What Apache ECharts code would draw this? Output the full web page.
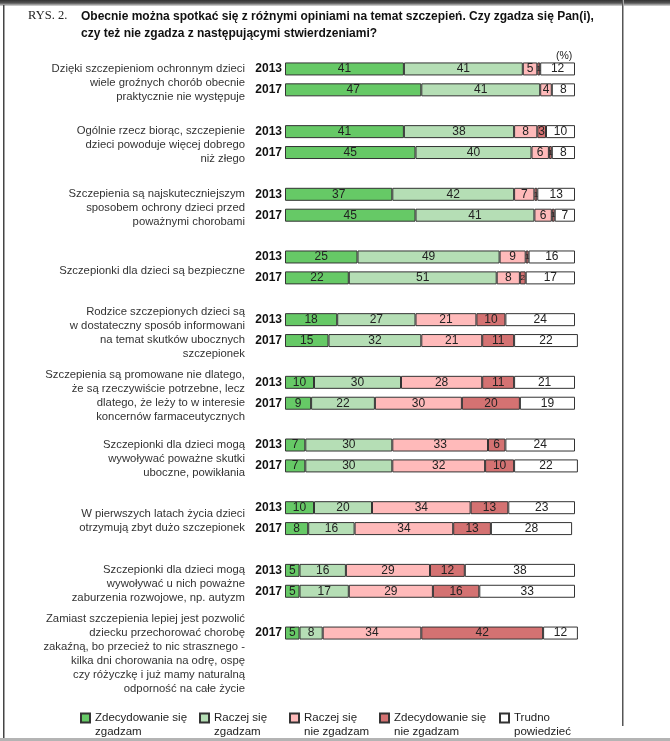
<!DOCTYPE html>
<html><head><meta charset="utf-8">
<script src="https://cdn.jsdelivr.net/npm/echarts@6/dist/echarts.min.js"></script>
<style>html,body{margin:0;padding:0;background:#fff}#c{width:670px;height:741px}</style>
</head><body><div id="c"></div>
<script>
// ---- data ----
const statements = [
  'Dzięki szczepieniom ochronnym dzieci\nwiele groźnych chorób obecnie\npraktycznie nie występuje',
  'Ogólnie rzecz biorąc, szczepienie\ndzieci powoduje więcej dobrego\nniż złego',
  'Szczepienia są najskuteczniejszym\nsposobem ochrony dzieci przed\npoważnymi chorobami',
  'Szczepionki dla dzieci są bezpieczne',
  'Rodzice szczepionych dzieci są\nw dostateczny sposób informowani\nna temat skutków ubocznych\nszczepionek',
  'Szczepienia są promowane nie dlatego,\nże są rzeczywiście potrzebne, lecz\ndlatego, że leży to w interesie\nkoncernów farmaceutycznych',
  'Szczepionki dla dzieci mogą\nwywoływać poważne skutki\nuboczne, powikłania',
  'W pierwszych latach życia dzieci\notrzymują zbyt dużo szczepionek',
  'Szczepionki dla dzieci mogą\nwywoływać u nich poważne\nzaburzenia rozwojowe, np. autyzm',
  'Zamiast szczepienia lepiej jest pozwolić\ndziecku przechorować chorobę\nzakaźną, bo przecież to nic strasznego -\nkilka dni chorowania na odrę, ospę\nczy różyczkę i już mamy naturalną\nodporność na całe życie'
];
const groupYears = [
  ['2013','2017'],['2013','2017'],['2013','2017'],['2013','2017'],['2013','2017'],
  ['2013','2017'],['2013','2017'],['2013','2017'],['2013','2017'],['2017']
];
const seriesNames = ['Zdecydowanie się\nzgadzam','Raczej się\nzgadzam','Raczej się\nnie zgadzam','Zdecydowanie się\nnie zgadzam','Trudno\npowiedzieć'];
// one value per bar, in order of groups/years above
const strongAgree    = [41,47, 41,45, 37,45, 25,22, 18,15, 10,9, 7,7, 10,8, 5,5, 5];
const agree          = [41,41, 38,40, 42,41, 49,51, 27,32, 30,22, 30,30, 20,16, 16,17, 8];
const disagree       = [5,4,   8,6,   7,6,   9,8,   21,21, 28,30, 33,32, 34,34, 29,29, 34];
const strongDisagree = [1,0,   3,1,   1,1,   1,2,   10,11, 11,20, 6,10,  13,13, 12,16, 42];
const hardToSay      = [12,8,  10,8,  13,7,  16,17, 24,22, 21,19, 24,22, 23,28, 38,33, 12];
const unitLabel = '(%)';

// ---- build slots (bars plus a gap between groups) ----
const slots = [];      // category keys
const slotYear = [];   // label shown
const slotBar = [];    // index in value arrays or -1
const groupSlots = []; // slot indices per group
let bi = 0;
groupYears.forEach((ys, g) => {
  const gs = [];
  ys.forEach(y => { gs.push(slots.length); slots.push('g' + g + '_' + y); slotYear.push(y); slotBar.push(bi++); });
  groupSlots.push(gs);
  if (g < groupYears.length - 1) { slots.push('gap' + g); slotYear.push(''); slotBar.push(-1); }
});

const colors = ['#66c966', '#b5deb5', '#ffbaba', '#d47272', '#ffffff'];
const valueSets = [strongAgree, agree, disagree, strongDisagree, hardToSay];

const series = valueSets.map((vals, s) => ({
  name: seriesNames[s],
  type: 'bar',
  stack: 'all',
  barWidth: 13,
  clip: false,
  itemStyle: { color: colors[s], borderColor: '#333', borderWidth: 1 },
  label: {
    show: true, position: 'inside', color: '#222', fontFamily: 'Liberation Sans, Arial', fontSize: 12,
    formatter: p => (p.value ? String(p.value) : '')
  },
  data: slotBar.map(b => {
    if (b < 0) return null;
    const v = vals[b];
    if (!v) return null;
    return v <= 2 ? { value: v, label: { fontSize: 8 } } : v;
  })
}));

const legendX = [80, 199, 289, 379, 499];
const legends = seriesNames.map((n, i) => ({
  data: [{ name: n, icon: 'rect' }], left: legendX[i], top: 697, orient: 'horizontal', padding: 0,
  itemWidth: 9, itemHeight: 9, itemGap: 0, selectedMode: false,
  formatter: name => '\n' + name,
  textStyle: { fontFamily: 'Liberation Sans, Arial', fontSize: 11.5, color: '#222', lineHeight: 14 }
}));

const chart = echarts.init(document.getElementById('c'));
const frame = [
  { type: 'rect', shape: { x: 0, y: 0, width: 670, height: 6 }, style: { fill: new echarts.graphic.LinearGradient(0,0,0,1,[{offset:0,color:'#333'},{offset:0.5,color:'#555'},{offset:1,color:'#ddd'}]) }, silent: true },
  { type: 'rect', shape: { x: 3, y: 5, width: 1.5, height: 736 }, style: { fill: '#444' }, silent: true },
  { type: 'rect', shape: { x: 622, y: 0, width: 1, height: 726 }, style: { fill: '#555' }, silent: true },
  { type: 'rect', shape: { x: 623, y: 0, width: 1, height: 726 }, style: { fill: '#aaa' }, silent: true },
  { type: 'rect', shape: { x: 0, y: 738, width: 670, height: 3 }, style: { fill: '#b4b4b4' }, silent: true },
  { type: 'text', left: 28, top: 9, style: { text: 'RYS. 2.', font: '12.5px "Liberation Serif", serif', fill: '#222' } },
  { type: 'text', left: 81, top: 8, style: { text: 'Obecnie można spotkać się z różnymi opiniami na temat szczepień. Czy zgadza się Pan(i),\nczy też nie zgadza z następującymi stwierdzeniami?', font: 'bold 12px "Liberation Sans", Arial', fill: '#111', lineHeight: 17 } },
  { type: 'text', left: 556, top: 51, style: { text: unitLabel, font: '10.5px "Liberation Sans", Arial', fill: '#222' } }
];

chart.setOption({
  animation: false,
  backgroundColor: '#fff',
  grid: { left: 285, right: 95, top: 58.5, bottom: 97.5, containLabel: false },
  xAxis: { type: 'value', min: 0, max: 100, show: false },
  yAxis: {
    type: 'category', inverse: true, data: slots,
    axisLine: { show: false }, axisTick: { show: false }, splitLine: { show: false },
    axisLabel: { interval: 0, margin: 3, fontWeight: 'bold', fontSize: 12, color: '#111', fontFamily: 'Liberation Sans, Arial',
      formatter: (v, i) => slotYear[i] }
  },
  legend: legends,
  series: series,
  graphic: frame
});

// statement labels positioned from the category axis
const texts = statements.map((t, g) => {
  const ys = groupSlots[g].map(si => chart.convertToPixel({ yAxisIndex: 0 }, si));
  let c = ys.reduce((a, b) => a + b, 0) / ys.length;
  const n = t.split('\n').length;
  c += (ys.length === 1) ? 21 : 3;
  return { type: 'text', x: 245, y: c - n * 7, style: { text: t, align: 'right', verticalAlign: 'top', font: '11.3px "Liberation Sans", Arial', fill: '#333', lineHeight: 14 } };
});
chart.setOption({ graphic: frame.concat(texts) });
</script>
</body></html>
